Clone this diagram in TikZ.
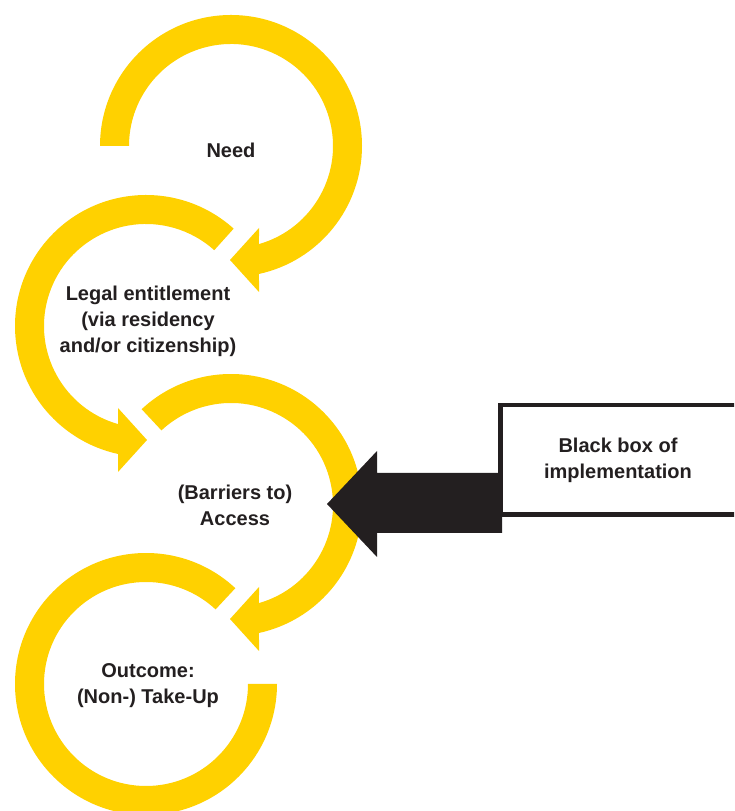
\documentclass[tikz,border=0pt]{standalone}
\usepackage{fontspec}
\setmainfont{Liberation Sans}
\definecolor{ringyellow}{RGB}{255,209,0}
\definecolor{darkink}{HTML}{231F20}
\begin{document}
\begin{tikzpicture}[x=1pt,y=1pt,
  ring/.style={fill=ringyellow,draw=none},
  label/.style={align=center,text=darkink,font=\fontsize{20}{26}\selectfont\bfseries,inner sep=0pt},
  blackshape/.style={fill=darkink,draw=none}]
\useasboundingbox (0,0) rectangle (734,811);
\clip (0,0) rectangle (734,811);
% Circle 1: Need
\begin{scope}[shift={(231,665)}]
\path[ring] (180:131) arc[start angle=180,end angle=-77.66,radius=131]
  -- (28,-146) -- (-1,-114) -- (28,-82) -- (-74.07:102)
  arc[start angle=-74.07,end angle=180,radius=102] -- cycle;
\end{scope}
% Circle 2: Legal entitlement
\begin{scope}[shift={(146,485)}]
\path[ring] (48:131) arc[start angle=48,end angle=257.66,radius=131]
  -- (-28,-146) -- (1,-114) -- (-28,-82) -- (254.07:102)
  arc[start angle=254.07,end angle=48,radius=102] -- cycle;
\end{scope}
% Circle 3: Access
\begin{scope}[shift={(231,306)}]
\path[ring] (133:131) arc[start angle=133,end angle=-77.66,radius=131]
  -- (28,-146) -- (-1,-114) -- (28,-82) -- (-74.07:102)
  arc[start angle=-74.07,end angle=133,radius=102] -- cycle;
\end{scope}
% Circle 4: Outcome
\begin{scope}[shift={(146,127)}]
\path[ring] (47:131) arc[start angle=47,end angle=360,radius=131]
  -- (0:102) arc[start angle=360,end angle=47,radius=102] -- cycle;
\end{scope}
% Black box
\draw[darkink,line width=4.5pt] (500.5,406) rectangle (737,296.5);
% Black arrow
\path[blackshape] (327,307) -- (377,360) -- (377,338) -- (502,338) -- (502,278)
  -- (377,278) -- (377,254) -- cycle;
% Labels
\node[label] (need) at (231,661) {Need};
\node[label] (legal) at (148,490) {Legal entitlement\\(via residency\\and/or citizenship)};
\node[label] (access) at (235,306) {(Barriers to)\\Access};
\node[label] (outcome) at (148,125) {Outcome:\\(Non-) Take-Up};
\node[label] (blackbox) at (618,351) {Black box of\\implementation};
\end{tikzpicture}
\end{document}
